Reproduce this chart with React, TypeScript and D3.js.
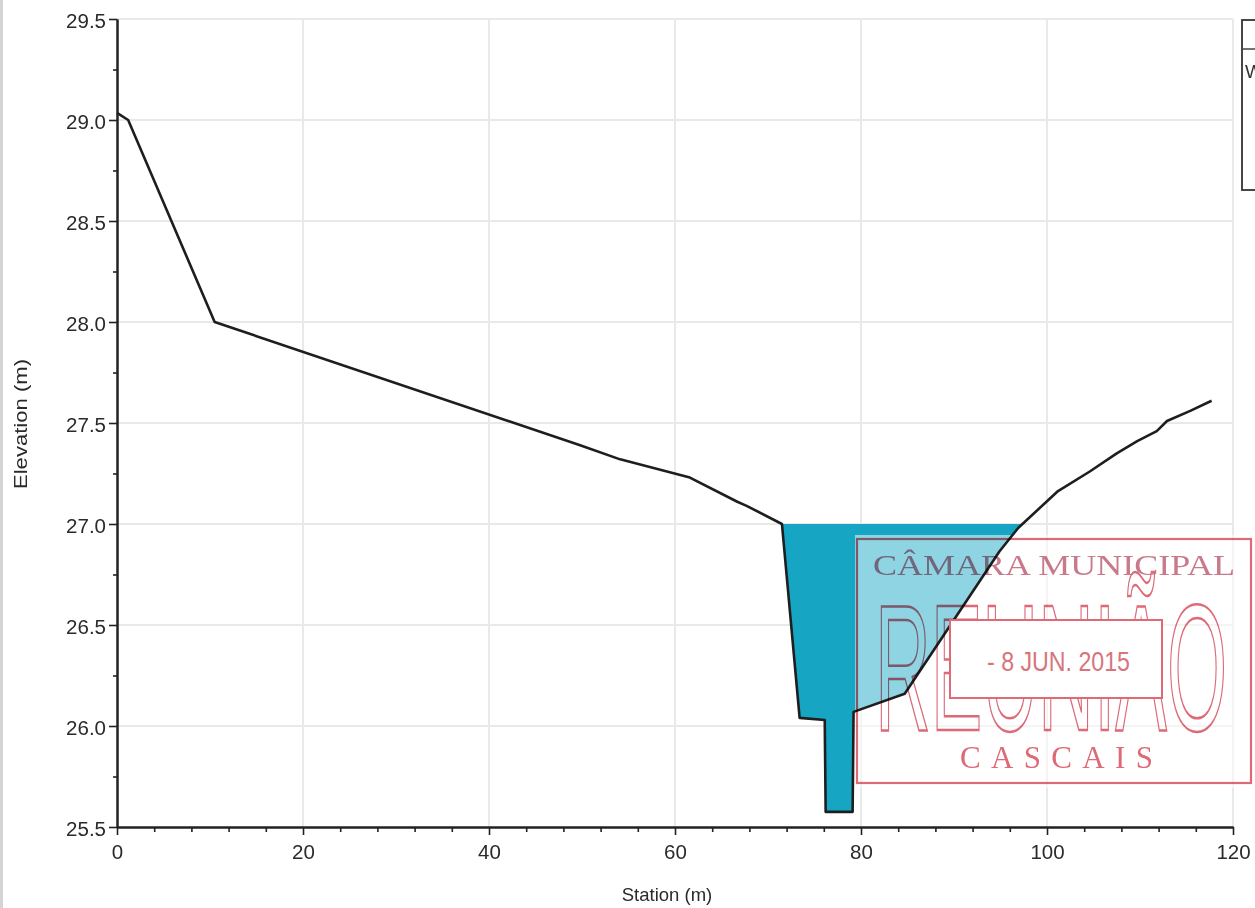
import React, { useEffect, useRef } from "react";
import * as d3 from "d3";

// Ground profile (station m, elevation m)
const stations = [0, 1.2, 10.5, 49.8, 54.1, 61.6, 66.7, 67.7, 71.5, 73.4, 76.1, 76.2, 79.1, 79.2, 84.7, 94.9, 96.9, 101.1, 104.6, 107.5, 109.7, 111.8, 112.9, 115.4, 117.7];
const elevations = [29.035, 29.0, 28.0, 27.39, 27.32, 27.23, 27.11, 27.09, 27.0, 26.04, 26.03, 25.575, 25.575, 26.07, 26.16, 26.865, 26.98, 27.16, 27.26, 27.35, 27.41, 27.46, 27.51, 27.56, 27.61];
const waterSurface = 27.0;

const xTicks = [0, 20, 40, 60, 80, 100, 120];
const yTicks = [25.5, 26.0, 26.5, 27.0, 27.5, 28.0, 28.5, 29.0, 29.5];
const xMinor = [4, 8, 12, 16, 24, 28, 32, 36, 44, 48, 52, 56, 64, 68, 72, 76, 84, 88, 92, 96, 104, 108, 112, 116];
const yMinor = [25.75, 26.25, 26.75, 27.25, 27.75, 28.25, 28.75, 29.25];

const xTitle = "Station (m)";
const yTitle = "Elevation (m)";

const W = 1255;
const H = 908;
const M = { left: 117, right: 1233, top: 19, bottom: 827 };
const FONT = "'Liberation Sans', Arial, sans-serif";

export default function App() {
  const ref = useRef<SVGSVGElement>(null);

  useEffect(() => {
    const svg = d3.select(ref.current);
    svg.selectAll("*").remove();

    const x = d3.scaleLinear().domain([0, 120]).range([M.left, M.right]);
    const y = d3.scaleLinear().domain([25.5, 29.5]).range([M.bottom, M.top]);

    svg.append("rect").attr("width", W).attr("height", H).attr("fill", "#fff");
    // faint scan edge
    svg.append("line").attr("x1", 1.5).attr("x2", 1.5).attr("y1", 0).attr("y2", H).attr("stroke", "#d4d4d4").attr("stroke-width", 3);

    // grid
    const grid = svg.append("g");
    grid.selectAll("line.v").data(xTicks.filter((d) => d > 0)).join("line")
      .attr("x1", (d) => x(d)).attr("x2", (d) => x(d)).attr("y1", M.top).attr("y2", M.bottom)
      .attr("stroke", "#e9e9e9").attr("stroke-width", 2);
    grid.selectAll("line.h").data(yTicks.filter((d) => d > 25.5)).join("line")
      .attr("x1", M.left).attr("x2", M.right).attr("y1", (d) => y(d)).attr("y2", (d) => y(d))
      .attr("stroke", "#e9e9e9").attr("stroke-width", 2);

    // water polygon: ground below water surface
    const pts: [number, number][] = stations.map((s, i) => [s, elevations[i]]);
    const poly: [number, number][] = [];
    for (let i = 0; i < pts.length - 1; i++) {
      const [x0, y0] = pts[i];
      const [x1, y1] = pts[i + 1];
      if (y0 <= waterSurface) poly.push([x0, y0]);
      if ((y0 - waterSurface) * (y1 - waterSurface) < 0) {
        const t = (waterSurface - y0) / (y1 - y0);
        poly.push([x0 + t * (x1 - x0), waterSurface]);
      }
    }
    const area = d3.line<[number, number]>().x((d) => x(d[0])).y((d) => y(d[1]));
    svg.append("path").attr("d", area(poly) + "Z").attr("fill", "#16a6c4");

    // stamp background (semi-opaque paper)
    svg.append("rect").attr("x", 855).attr("y", 535).attr("width", 400).attr("height", 253)
      .attr("fill", "#fff").attr("opacity", 0.52);

    // ground line
    const line = d3.line<[number, number]>().x((d) => x(d[0])).y((d) => y(d[1]));
    svg.append("path").attr("d", line(pts)).attr("fill", "none").attr("stroke", "#1e1e1e")
      .attr("stroke-width", 2.6).attr("stroke-linejoin", "round");

    // axes
    const yAxis = svg.append("g").attr("transform", `translate(${M.left},0)`)
      .call(d3.axisLeft(y).tickValues(yTicks).tickFormat(d3.format(".1f")).tickSize(8).tickSizeOuter(0).tickPadding(3));
    const yAxisMinor = svg.append("g").attr("transform", `translate(${M.left},0)`)
      .call(d3.axisLeft(y).tickValues(yMinor).tickFormat(() => "").tickSize(4).tickSizeOuter(0));
    const xAxis = svg.append("g").attr("transform", `translate(0,${M.bottom})`)
      .call(d3.axisBottom(x).tickValues(xTicks).tickFormat(d3.format("d")).tickSize(8).tickSizeOuter(0).tickPadding(9));
    const xAxisMinor = svg.append("g").attr("transform", `translate(0,${M.bottom})`)
      .call(d3.axisBottom(x).tickValues(xMinor).tickFormat(() => "").tickSize(5).tickSizeOuter(0));
    [yAxis, yAxisMinor, xAxis, xAxisMinor].forEach((g) => {
      g.selectAll("path.domain").attr("stroke", "#222").attr("stroke-width", 2);
      g.selectAll(".tick line").attr("stroke", "#222").attr("stroke-width", 1.6);
      g.selectAll(".tick text").attr("fill", "#2a2a2a").style("font-family", FONT).style("font-size", "20.5px");
    });
    yAxis.selectAll(".tick text").attr("dy", "0.42em");

    // titles
    svg.append("text").attr("x", 667).attr("y", 901).attr("text-anchor", "middle")
      .style("font-family", FONT).style("font-size", "18.5px").attr("fill", "#2a2a2a").text(xTitle);
    svg.append("text").attr("transform", "translate(27,489) rotate(-90)").attr("textLength", 130).attr("lengthAdjust", "spacingAndGlyphs")
      .style("font-family", FONT).style("font-size", "18px").attr("fill", "#2a2a2a").text(yTitle);

    // legend box (cut off at right edge)
    const lg = svg.append("g");
    lg.append("rect").attr("x", 1242).attr("y", 20).attr("width", 40).attr("height", 170)
      .attr("fill", "#fff").attr("stroke", "#333").attr("stroke-width", 1.8);
    lg.append("line").attr("x1", 1242).attr("x2", 1260).attr("y1", 49).attr("y2", 49).attr("stroke", "#444").attr("stroke-width", 1.5);
    lg.append("text").attr("x", 1245).attr("y", 78).style("font-family", FONT).style("font-size", "19px").attr("fill", "#333").text("WS");

    // stamp
    const red = "#dd6a76";
    const st = svg.append("g").style("mix-blend-mode", "multiply");
    st.append("rect").attr("x", 857).attr("y", 539).attr("width", 394).attr("height", 244)
      .attr("fill", "none").attr("stroke", red).attr("stroke-width", 2.2);
    st.append("text").attr("x", 873).attr("y", 575).attr("textLength", 362).attr("lengthAdjust", "spacingAndGlyphs")
      .style("font-family", "'Liberation Serif', 'DejaVu Serif', serif").style("font-size", "29px")
      .attr("fill", "#c97a8a").text("CÂMARA MUNICIPAL");
    st.append("text").attr("x", 875).attr("y", 730).attr("textLength", 352).attr("lengthAdjust", "spacingAndGlyphs")
      .style("font-family", FONT).style("font-size", "180px")
      .attr("fill", "none").attr("stroke", red).attr("stroke-width", 2.5).text("REUNIÃO");
    st.append("text").attr("x", 960).attr("y", 768).attr("textLength", 193).attr("lengthAdjust", "spacing")
      .style("font-family", "'Liberation Serif', 'DejaVu Serif', serif").style("font-size", "31px")
      .attr("fill", red).text("CASCAIS");
    svg.append("rect").attr("x", 950).attr("y", 620).attr("width", 212).attr("height", 78)
      .attr("fill", "#fff").attr("stroke", red).attr("stroke-width", 2);
    svg.append("text").attr("x", 987).attr("y", 671).attr("textLength", 143).attr("lengthAdjust", "spacingAndGlyphs")
      .style("font-family", FONT).style("font-size", "28px")
      .attr("fill", "#d8747c").text("- 8 JUN. 2015");
  }, []);

  return <svg ref={ref} width={W} height={H} style={{ position: "absolute", left: 0, top: 0, display: "block" }} />;
}
